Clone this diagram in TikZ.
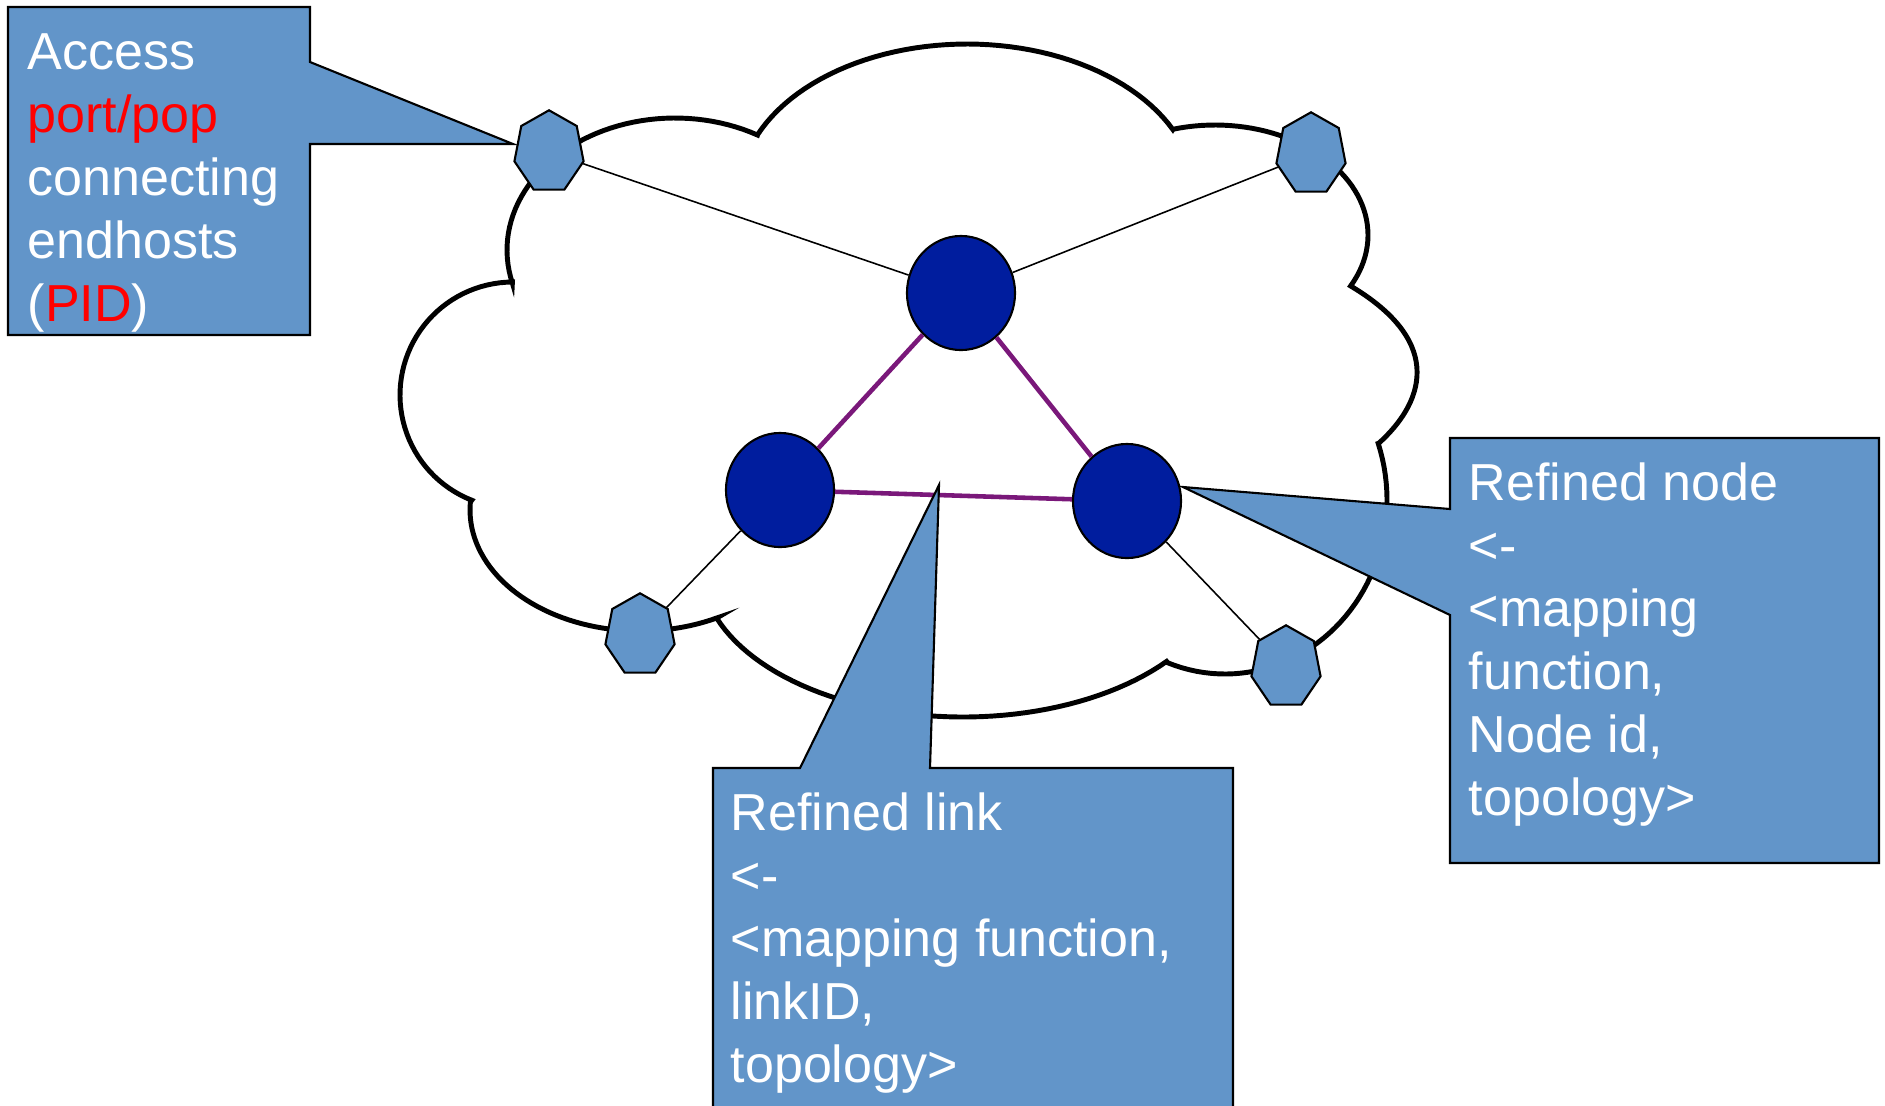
\documentclass[tikz,border=0pt]{standalone}
\usepackage{fontspec}
\setmainfont{Liberation Sans}
\usetikzlibrary{shapes}
\usetikzlibrary{positioning}
\definecolor{boxblue}{RGB}{98,149,201}
\definecolor{routerblue}{RGB}{0,29,158}
\definecolor{linkpurple}{RGB}{122,24,122}
\tikzset{
    router/.style = {ellipse, draw=black, line width=0.6pt, fill=routerblue, inner sep=0, minimum width=1.08cm, minimum height=1.14cm},
    host/.style = {regular polygon, regular polygon sides=7, draw=black, line width=0.6pt, fill=boxblue, inner sep=0, minimum size=0.834cm, xscale=0.85},
    edgen/.style = {-, line width=0.45pt, black},
    edgep/.style = {-, line width=1.3pt, linkpurple}, % refined links
    cloudline/.style = {line width=1.4pt, black},
    callout/.style = {draw=black, line width=0.6pt, fill=boxblue},
    calltext/.style = {text=white, align=left, inner sep=0, anchor=north west, font=\fontsize{14.8pt}{17.93pt}\selectfont}
}

\begin{document}
\begin{tikzpicture}[x=0.01cm, y=-0.01cm]
\clip (0,0) rectangle (1885,1105);

% cloud, one elliptic arc per bump
\draw[cloudline] plot[domain=165.5:299.4, samples=50] ({675+168*cos(\x)}, {250+132*sin(\x)})
 -- plot[domain=203.25:334.55, samples=50] ({967+228*cos(\x)}, {194+150*sin(\x)})
 -- plot[domain=-105.9:27.6, samples=50] ({1215+153*cos(\x)}, {235+110*sin(\x)})
 .. controls (1448,344) and (1421,405) .. (1379,443)
 -- plot[domain=-19:110.7, samples=50] ({1225+162*cos(\x)}, {500+174*sin(\x)})
 -- plot[domain=39:160.1, samples=50] ({963+262*cos(\x)}, {567+150*sin(\x)})
 -- plot[domain=63.1:183.8, samples=50] ({640+170*cos(\x)}, {510+121*sin(\x)})
 -- plot[domain=111.4:269.7, samples=50] ({513+113*cos(\x)}, {395+113*sin(\x)})
 -- cycle;

\node[router] at ( 961, 293) (r1) {};
\node[router] at ( 780, 490) (r2) {};
\node[router] at (1127, 501) (r3) {};

\node[host] at ( 549, 152) (h1) {};
\node[host] at (1311, 154) (h2) {};
\node[host] at ( 640, 635) (h3) {};
\node[host] at (1286, 667) (h4) {};

\draw[edgen] (h1) edge (r1);
\draw[edgen] (h2) edge (r1);
\draw[edgen] (h3) edge (r2);
\draw[edgen] (h4) edge (r3);
\draw[edgep] (r1) edge (r2);
\draw[edgep] (r1) edge (r3);
\draw[edgep] (r2) edge (r3);

% callouts
\coordinate (tipA) at (513,144);
\coordinate (tipB) at (1183,487);
\coordinate (tipC) at (939,485);
\draw[callout] (8,7) -- (310,7) -- (310,62) -- (tipA) -- (310,144) -- (310,335) -- (8,335) -- cycle;
\draw[callout] (1450,438) -- (1879,438) -- (1879,863) -- (1450,863) -- (1450,615) -- (tipB) -- (1450,509) -- cycle;
\draw[callout] (713,768) -- (800,768) -- (tipC) -- (930,768) -- (1233,768) -- (1233,1130) -- (713,1130) -- cycle;

\node[calltext] at (27,33) (t1) {Access\\\textcolor{red}{port/pop}\\connecting\\endhosts\\(\textcolor{red}{PID})};
\node[calltext] at (1468,462) (t2) {Refined node\\<-\\<mapping\\function,\\Node id,\\topology>};
\node[calltext] at (730,792) (t3) {Refined link\\<-\\<mapping function,\\linkID,\\topology>};

\end{tikzpicture}
\end{document}
